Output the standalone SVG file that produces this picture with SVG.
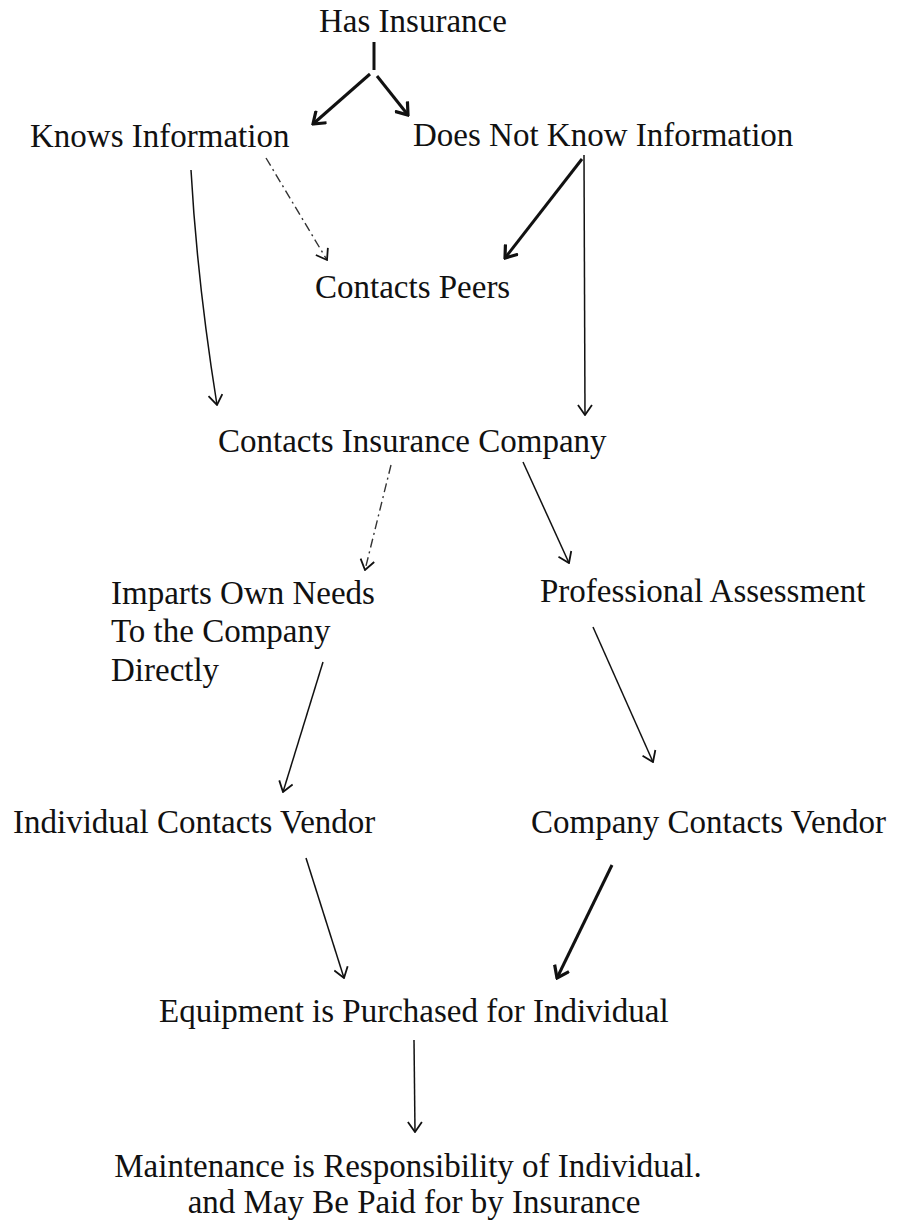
<svg xmlns="http://www.w3.org/2000/svg" width="905" height="1223" viewBox="0 0 905 1223">
<style>
  text { font-family: "Liberation Serif", "Times New Roman", serif; font-size: 33px; fill: #111; }
  .thin { fill: none; stroke: #111; stroke-width: 1.5; }
  .bold { fill: none; stroke: #111; stroke-width: 3; }
  .dash { fill: none; stroke: #333; stroke-width: 1.4; stroke-dasharray: 9 4 2 4; }
</style>
<defs>
  <marker id="headThin" viewBox="0 0 12 16" refX="11" refY="8" markerWidth="12" markerHeight="16" markerUnits="userSpaceOnUse" orient="auto">
    <path d="M1,1 L11,8 L1,15" fill="none" stroke="#111" stroke-width="1.8"/>
  </marker>
  <marker id="headBold" viewBox="0 0 14 18" refX="12" refY="9" markerWidth="14" markerHeight="18" markerUnits="userSpaceOnUse" orient="auto">
    <path d="M1,1 L12,9 L1,17" fill="none" stroke="#111" stroke-width="3.2"/>
  </marker>
</defs>
<rect width="905" height="1223" fill="#fff"/>

<g id="connectors">
  <line class="bold" x1="374" y1="42" x2="374" y2="70"/>
  <line class="bold" x1="370" y1="74" x2="313" y2="124" marker-end="url(#headBold)"/>
  <line class="bold" x1="377" y1="76" x2="408" y2="115" marker-end="url(#headBold)"/>
  <path class="thin" d="M191,170 C196,260 205,330 217,405" marker-end="url(#headThin)"/>
  <line class="dash" x1="266" y1="158" x2="327" y2="260" marker-end="url(#headThin)"/>
  <line class="bold" x1="582" y1="159" x2="505" y2="258" marker-end="url(#headBold)"/>
  <line class="thin" x1="584" y1="155" x2="585" y2="415" marker-end="url(#headThin)"/>
  <line class="dash" x1="391" y1="465" x2="365" y2="570" marker-end="url(#headThin)"/>
  <line class="thin" x1="523" y1="462" x2="569" y2="563" marker-end="url(#headThin)"/>
  <line class="thin" x1="323" y1="662" x2="283" y2="792" marker-end="url(#headThin)"/>
  <line class="thin" x1="593" y1="627" x2="653" y2="762" marker-end="url(#headThin)"/>
  <line class="thin" x1="306" y1="858" x2="344" y2="978" marker-end="url(#headThin)"/>
  <line class="bold" x1="612" y1="865" x2="557" y2="978" stroke-width="2.5" marker-end="url(#headBold)"/>
  <line class="thin" x1="414" y1="1040" x2="415" y2="1132" marker-end="url(#headThin)"/>
</g>

<g id="has-insurance"><text x="319" y="32">Has Insurance</text></g>
<g id="knows-information"><text x="30" y="147">Knows Information</text></g>
<g id="does-not-know"><text x="413" y="146">Does Not Know Information</text></g>
<g id="contacts-peers"><text x="315" y="298">Contacts Peers</text></g>
<g id="contacts-insurance-company"><text x="218" y="452">Contacts Insurance Company</text></g>
<g id="imparts-own-needs">
  <text x="111" y="604">Imparts Own Needs</text>
  <text x="111" y="642">To the Company</text>
  <text x="111" y="681">Directly</text>
</g>
<g id="professional-assessment"><text x="540" y="602">Professional Assessment</text></g>
<g id="individual-contacts-vendor"><text x="13" y="833">Individual Contacts Vendor</text></g>
<g id="company-contacts-vendor"><text x="531" y="833">Company Contacts Vendor</text></g>
<g id="equipment-purchased"><text x="159" y="1022">Equipment is Purchased for Individual</text></g>
<g id="maintenance">
  <text x="408" y="1177" text-anchor="middle">Maintenance is Responsibility of Individual.</text>
  <text x="414" y="1213" text-anchor="middle">and May Be Paid for by Insurance</text>
</g>
</svg>
